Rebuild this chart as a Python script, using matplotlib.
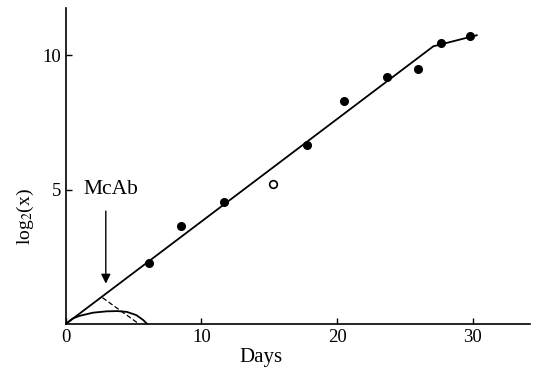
import matplotlib.pyplot as plt

plt.rcParams['font.family'] = ['Liberation Serif', 'DejaVu Serif']
plt.rcParams['mathtext.fontset'] = 'stix'

# measured points (days, log2 x)
days = [6.1, 8.5, 11.7, 17.8, 20.5, 23.7, 26.0, 27.7, 29.8]
log2x = [2.27, 3.64, 4.54, 6.65, 8.29, 9.18, 9.5, 10.45, 10.7]
open_days = [15.3]
open_log2x = [5.2]

# fitted line with knee
fit_days = [0, 27.1, 30.3]
fit_log2x = [0, 10.33, 10.74]

# dashed decay branch
dash_days = [2.7, 5.4]
dash_log2x = [0.98, 0.0]

# hump curve near origin
hump_days = [0, 0.5, 1.0, 2.0, 3.0, 3.8, 4.5, 5.2, 5.7, 6.0]
hump_log2x = [0, 0.2, 0.3, 0.42, 0.47, 0.48, 0.45, 0.33, 0.15, 0.0]

fig = plt.figure(figsize=(5.35, 3.69), dpi=100)
ax = fig.add_axes([0.123, 0.122, 0.867, 0.856])

ax.plot(fit_days, fit_log2x, color='black', lw=1.3)
ax.plot(dash_days, dash_log2x, color='black', lw=0.9, ls=(0, (4, 2)))
ax.plot(hump_days, hump_log2x, color='black', lw=1.3)
ax.plot(days, log2x, 'o', color='black', ms=5.5)
ax.plot(open_days, open_log2x, 'o', mfc='white', mec='black', mew=1.2, ms=5.5)

# McAb arrow
ax.annotate('', xy=(2.95, 1.5), xytext=(2.95, 4.2),
            arrowprops=dict(arrowstyle='-|>', color='black', lw=1.0,
                            mutation_scale=14, shrinkA=0, shrinkB=0))
ax.text(3.3, 5.0, 'McAb', fontsize=15.5, ha='center', va='center')

ax.set_xlim(0, 34.2)
ax.set_ylim(0, 11.75)
ax.set_xticks([0, 10, 20, 30])
ax.set_yticks([5, 10])
ax.tick_params(direction='in', length=4, labelsize=13.5, width=1)
ax.spines['top'].set_visible(False)
ax.spines['right'].set_visible(False)
ax.spines['left'].set_linewidth(1.2)
ax.spines['bottom'].set_linewidth(1.2)

ax.set_xlabel('Days', fontsize=15, labelpad=0)
ax.xaxis.set_label_coords(0.42, -0.075)
ax.set_ylabel('log$_2$(x)', fontsize=14)
ax.yaxis.set_label_coords(-0.065, 0.34)

fig.savefig('out.png', dpi=100)
